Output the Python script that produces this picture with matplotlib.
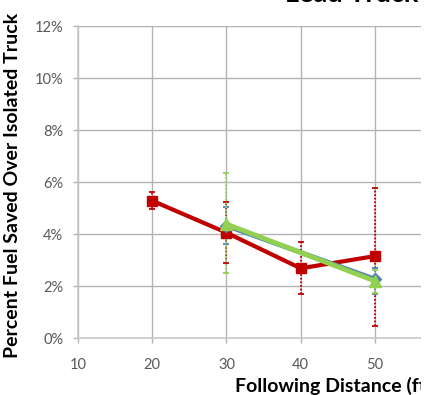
import matplotlib.pyplot as plt
import numpy as np
from matplotlib.patches import Rectangle

# ----------------------------
# Data (percent fuel saved)
# ----------------------------
red_dist = [20, 30, 40, 50]
red_val = [5.28, 4.05, 2.68, 3.15]
red_lo = [4.95, 2.88, 1.69, 0.47]
red_hi = [5.60, 5.22, 3.68, 5.78]

blue_dist = [30, 50]
blue_val = [4.32, 2.26]
blue_lo = [3.60, 1.69]
blue_hi = [5.03, 2.70]

green_dist = [30, 50]
green_val = [4.38, 2.19]
green_lo = [2.49, 1.75]
green_hi = [6.33, 2.62]

x_ticks = [10, 20, 30, 40, 50]
y_ticks = [0, 2, 4, 6, 8, 10, 12]

RED = "#C00000"
BLUE = "#4F81BD"
GREEN = "#92D050"
GRID = "#b3b3b3"
TICK = "#595959"

plt.rcParams["font.family"] = ["Lato", "DejaVu Sans"]

W, H = 430, 395
fig = plt.figure(figsize=(W / 100, H / 100), dpi=100)
ax = fig.add_axes([78 / W, (H - 338) / H, (421 - 78) / W, (338 - 26) / H])


def series(x, v, lo, hi, color, marker, ms, lw):
    v = np.array(v)
    yerr = [v - np.array(lo), np.array(hi) - v]
    eb = ax.errorbar(
        x, v, yerr=yerr, fmt="none", ecolor=color, elinewidth=1.3,
        capsize=2.5, capthick=1.3, zorder=3,
    )
    eb[2][0].set_linestyle((0, (1, 1)))
    ax.plot(x, v, color=color, linewidth=lw, marker=marker, markersize=ms,
            markeredgecolor=color, markerfacecolor=color, zorder=4)


series(red_dist, red_val, red_lo, red_hi, RED, "s", 7.5, 3.0)
series(blue_dist, blue_val, blue_lo, blue_hi, BLUE, "D", 6.5, 3.5)
series(green_dist, green_val, green_lo, green_hi, GREEN, "^", 8, 3.5)

ax.set_xlim(10, 56.2)
ax.set_ylim(0, 12)
ax.set_xticks(x_ticks)
ax.set_yticks(y_ticks)
ax.set_yticklabels([f"{v}%" for v in y_ticks])
ax.grid(True, color=GRID, linewidth=1.0)
ax.set_axisbelow(True)

for s in ["top", "right"]:
    ax.spines[s].set_visible(False)
for s in ["left", "bottom"]:
    ax.spines[s].set_color("#c8c8c8")
    ax.spines[s].set_linewidth(1.2)

ax.tick_params(axis="both", colors=GRID, labelcolor=TICK, labelsize=10.5,
               length=3.5, width=1)
ax.tick_params(axis="x", pad=11)
ax.tick_params(axis="y", pad=7)

ax.set_ylabel("Percent Fuel Saved Over Isolated Truck", fontsize=14,
              fontweight="bold", color="black")
ax.yaxis.set_label_coords(-0.165, 0.49)

fig.text(235 / W, 1 - 392 / H, "Following Distance (ft)", fontsize=14,
         fontweight="bold", ha="left", va="baseline")
fig.text(285 / W, 1 - 2.5 / H, "Lead Truck", fontsize=19.5,
         fontweight="bold", ha="left", va="baseline")

# the source picture is cropped just right of the plot area
fig.patches.append(Rectangle((421 / W, 0), 1, 1, transform=fig.transFigure,
                             facecolor="white", edgecolor="none", zorder=10))

fig.savefig("out.png", dpi=100)
